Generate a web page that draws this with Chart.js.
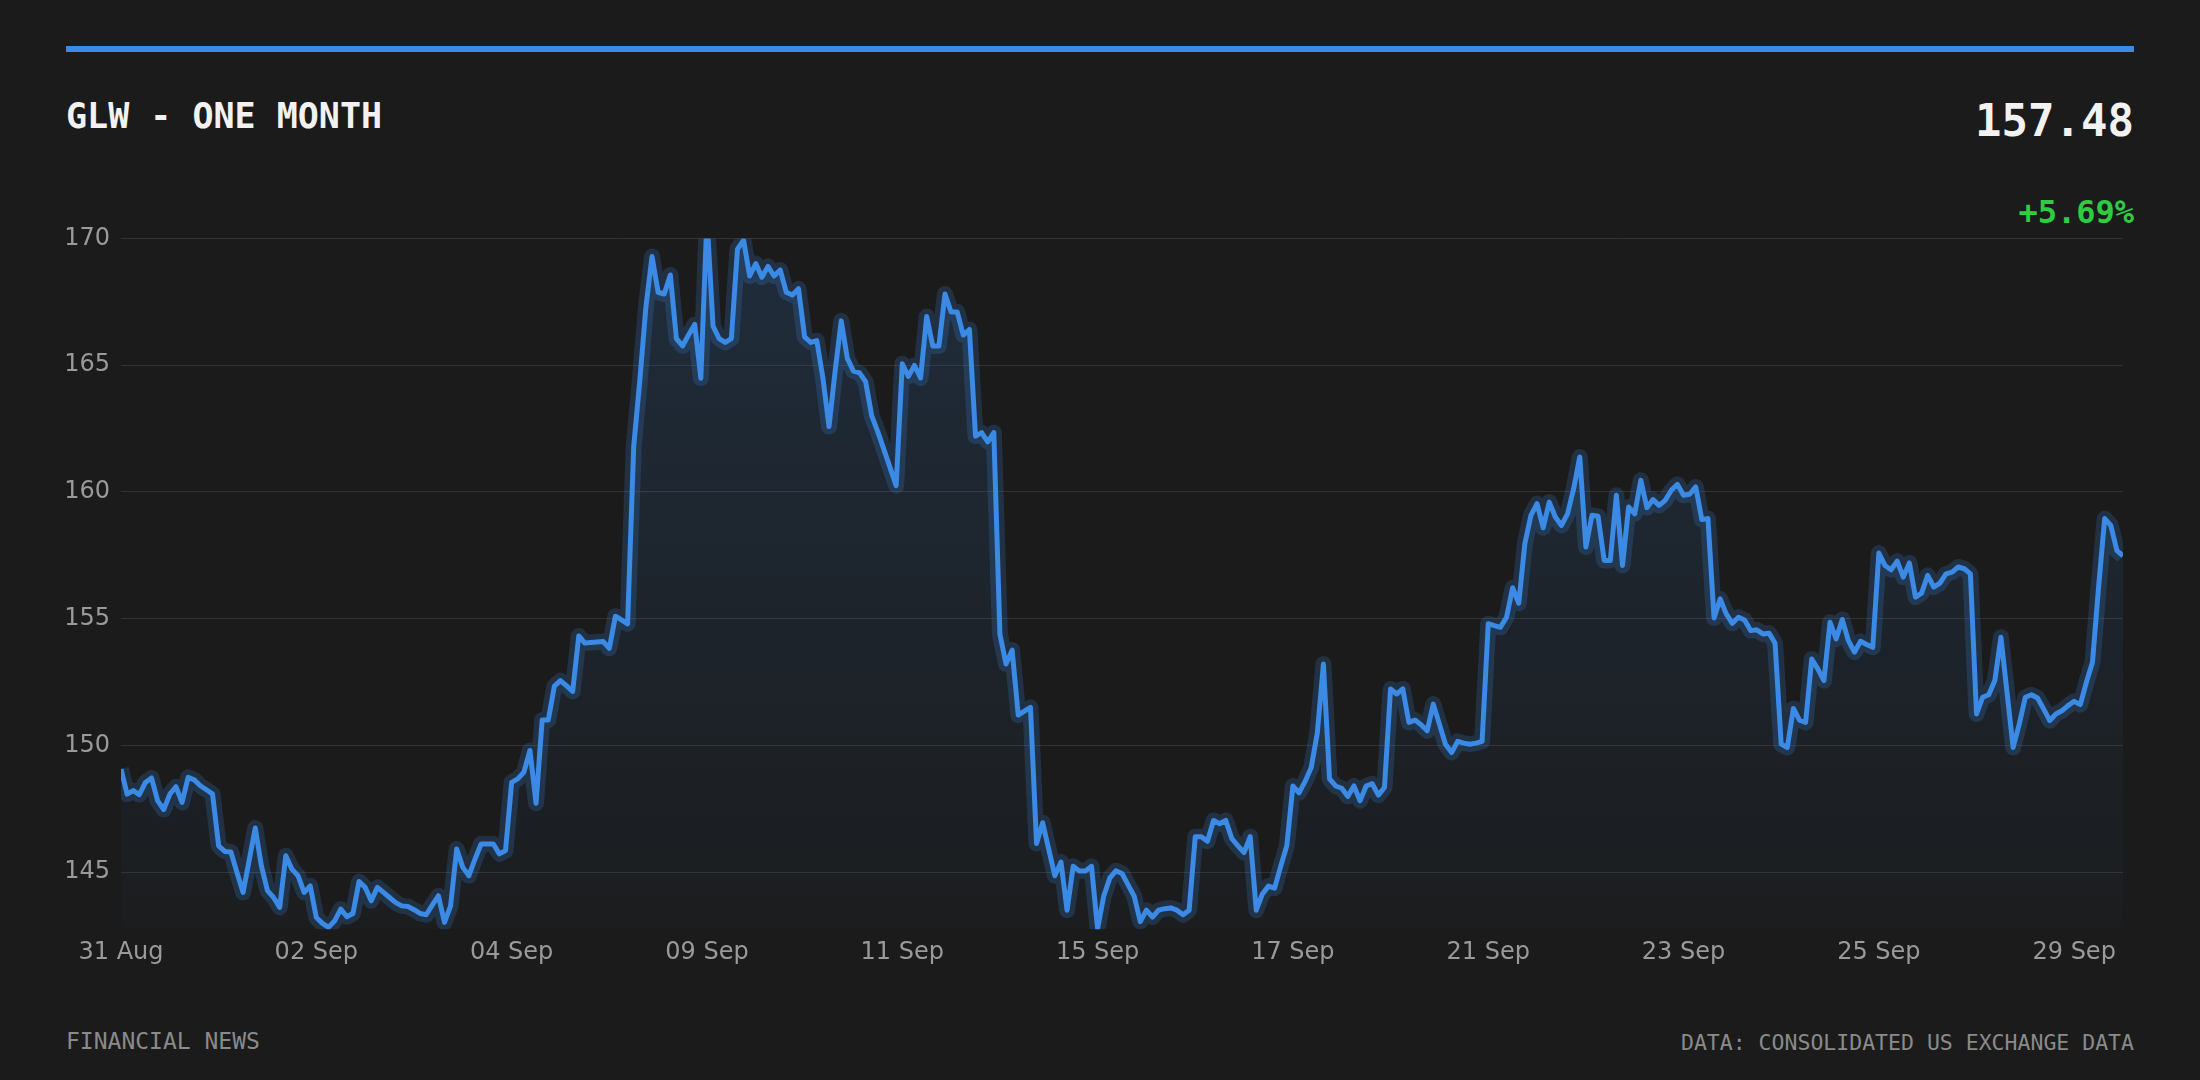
<!DOCTYPE html>
<html>
<head>
<meta charset="utf-8">
<script src="https://cdn.jsdelivr.net/npm/chart.js@4.4.0/dist/chart.umd.min.js"></script>
<style>
  body { margin: 0; width: 2200px; height: 1080px; background: #1b1b1b; position: relative; overflow: hidden; font-family: "DejaVu Sans Mono", monospace; }
  .bar { position: absolute; left: 66px; top: 46px; width: 2068px; height: 6px; background: #3a8ae6; }
  .title { position: absolute; left: 66px; top: 99px; font-size: 35px; line-height: 35px; font-weight: bold; color: #f2f2f2; }
  .price { position: absolute; right: 66px; top: 99px; font-size: 44px; line-height: 44px; font-weight: bold; color: #f2f2f2; }
  .change { position: absolute; right: 66px; top: 196px; font-size: 32px; line-height: 32px; font-weight: bold; color: #2ecc40; }
  .foot-l { position: absolute; left: 66px; top: 1030px; font-size: 23px; line-height: 23px; color: #8a8a8a; }
  .foot-r { position: absolute; right: 66px; top: 1032px; font-size: 21.5px; line-height: 21.5px; color: #8a8a8a; }
  #chart { position: absolute; left: 0; top: 200px; }
</style>
</head>
<body>
<div class="bar"></div>
<div class="title">GLW - ONE MONTH</div>
<div class="price">157.48</div>
<div class="change">+5.69%</div>
<canvas id="chart" width="2200" height="800"></canvas>
<div class="foot-l">FINANCIAL NEWS</div>
<div class="foot-r">DATA: CONSOLIDATED US EXCHANGE DATA</div>
<script>
// trading days shown on the axis, 16 intraday points per day
const tradingDays = ['31 Aug', '01 Sep', '02 Sep', '03 Sep', '04 Sep', '08 Sep', '09 Sep', '10 Sep', '11 Sep',
  '14 Sep', '15 Sep', '16 Sep', '17 Sep', '18 Sep', '21 Sep', '22 Sep', '23 Sep', '24 Sep', '25 Sep', '28 Sep', '29 Sep'];
const pointsPerDay = 16;
const labelEvery = 32; // one date label every two trading days

// GLW price, week by week
const week1 = [
  149.07, 148.08, 148.22, 148.06, 148.54, 148.72, 147.82, 147.47, 148.08, 148.37,
  147.75, 148.74, 148.64, 148.41, 148.25, 148.08, 146.04, 145.82, 145.80, 144.99,
  144.20, 145.47, 146.74, 145.25, 144.27, 144.00, 143.61, 145.65, 145.12, 144.86,
  144.20, 144.46, 143.21, 142.98, 142.82, 143.08, 143.54, 143.24, 143.37, 144.63,
  144.40, 143.87, 144.40, 144.20, 144.00, 143.80, 143.67, 143.65, 143.52, 143.37,
  143.32, 143.70, 144.07, 143.02, 143.67, 145.91, 145.19, 144.86, 145.52, 146.11,
  146.11, 146.11, 145.72, 145.85, 148.54, 148.68, 148.94, 149.80, 147.72, 151.00,
  151.00, 152.34, 152.56, 152.35, 152.13, 154.32, 154.04, 154.06, 154.08, 154.10
];
const week2 = [
  153.83, 155.10, 154.95, 154.80, 161.80, 164.40, 167.30, 169.29, 167.88, 167.81,
  168.56, 166.05, 165.76, 166.20, 166.61, 164.49, 170.80, 166.54, 166.05, 165.90,
  166.05, 169.58, 169.93, 168.52, 169.01, 168.47, 168.90, 168.52, 168.76, 167.88,
  167.77, 168.02, 166.12, 165.90, 165.97, 164.49, 162.58, 164.77, 166.75, 165.27,
  164.77, 164.70, 164.35, 163.00, 162.37, 161.67, 160.96, 160.25, 165.06, 164.56,
  164.99, 164.50, 166.92, 165.76, 165.76, 167.81, 167.10, 167.10, 166.19, 166.41,
  162.20, 162.34, 161.98, 162.34
];
const week3 = [
  154.39, 153.21, 153.76, 151.20, 151.35, 151.50, 146.13, 146.95, 145.90, 144.86,
  145.40, 143.50, 145.23, 145.05, 145.05, 145.23, 142.77, 144.05, 144.77, 145.05,
  144.95, 144.50, 144.05, 143.05, 143.50, 143.23, 143.50, 143.56, 143.59, 143.50,
  143.32, 143.50, 146.40, 146.40, 146.22, 147.04, 146.91, 147.04, 146.32, 146.04,
  145.77, 146.40, 143.50, 144.14, 144.45, 144.37, 145.23, 146.04, 148.40, 148.13,
  148.58, 149.13, 150.49, 153.21, 148.68, 148.40, 148.31, 147.99, 148.40, 147.82,
  148.40, 148.49, 148.04, 148.34, 152.23, 152.03, 152.23, 150.91, 151.00, 150.82,
  150.58, 151.63, 150.84, 150.05, 149.72, 150.16, 150.09, 150.05, 150.09, 150.16
];
const week4 = [
  154.80, 154.73, 154.66, 155.06, 156.22, 155.61, 157.96, 159.08, 159.54, 158.59,
  159.60, 159.01, 158.68, 159.14, 160.13, 161.38, 157.83, 159.08, 159.04, 157.30,
  157.30, 159.87, 157.10, 159.41, 159.14, 160.46, 159.38, 159.70, 159.47, 159.67,
  160.07, 160.30, 159.87, 159.91, 160.20, 158.91, 158.95, 155.03, 155.78, 155.19,
  154.82, 155.06, 154.95, 154.53, 154.56, 154.40, 154.43, 154.03, 150.05, 149.92,
  151.46, 151.00, 150.91, 153.41, 153.02, 152.56, 154.86, 154.20, 154.97, 154.14,
  153.68, 154.11, 153.98, 153.87, 157.59, 157.10, 156.93, 157.27, 156.64, 157.20,
  155.85, 156.01, 156.71, 156.25, 156.40, 156.77, 156.84, 157.04, 156.97, 156.77
];
const week5 = [
  151.24, 151.90, 152.00, 152.56, 154.27, 152.09, 149.92, 150.84, 151.90, 152.00,
  151.87, 151.44, 150.98, 151.24, 151.37, 151.57, 151.74, 151.61, 152.49, 153.28,
  156.25, 158.95, 158.68, 157.69, 157.48
];

const prices = [...week1, ...week2, ...week3, ...week4, ...week5];
const labels = prices.map((p, i) => tradingDays[Math.floor(i / pointsPerDay)]);

function fillGradient(context) {
  const chart = context.chart;
  const area = chart.chartArea;
  if (!area) return 'rgba(58,138,230,0.08)';
  const g = chart.ctx.createLinearGradient(0, area.top, 0, area.bottom);
  g.addColorStop(0, 'rgba(58,138,230,0.16)');
  g.addColorStop(1, 'rgba(58,138,230,0.02)');
  return g;
}

new Chart(document.getElementById('chart'), {
  type: 'line',
  data: {
    labels: labels,
    datasets: [{
      data: prices,
      borderColor: '#3a8ae6',
      borderWidth: 5,
      borderJoinStyle: 'round',
      pointRadius: 0,
      tension: 0,
      fill: 'start',
      backgroundColor: fillGradient,
      clip: 0
    }, {
      // soft glow behind the price line
      data: prices,
      borderColor: 'rgba(58,138,230,0.2)',
      borderWidth: 16,
      borderJoinStyle: 'round',
      pointRadius: 0,
      tension: 0,
      fill: false,
      clip: 0
    }]
  },
  options: {
    responsive: false,
    animation: false,
    devicePixelRatio: 1,
    layout: { padding: { top: 38.5, right: 77, bottom: 32, left: 0 } },
    plugins: {
      legend: { display: false },
      tooltip: { enabled: false },
      filler: { drawTime: 'beforeDatasetsDraw' }
    },
    scales: {
      x: {
        grid: { display: false },
        border: { display: false },
        ticks: {
          autoSkip: false,
          maxRotation: 0,
          padding: 1,
          color: '#9a9a9a',
          font: { family: 'DejaVu Sans', size: 24 },
          callback: (v, i) => (i % labelEvery === 0 ? labels[i] : '')
        }
      },
      y: {
        min: 142.75,
        max: 170,
        afterFit: (scale) => { scale.width = 121; },
        grid: { color: 'rgba(255,255,255,0.1)', drawTicks: false },
        border: { display: false },
        ticks: {
          stepSize: 5,
          includeBounds: false,
          padding: 11,
          color: '#9a9a9a',
          font: { family: 'DejaVu Sans', size: 24 }
        }
      }
    }
  }
});
</script>
</body>
</html>
